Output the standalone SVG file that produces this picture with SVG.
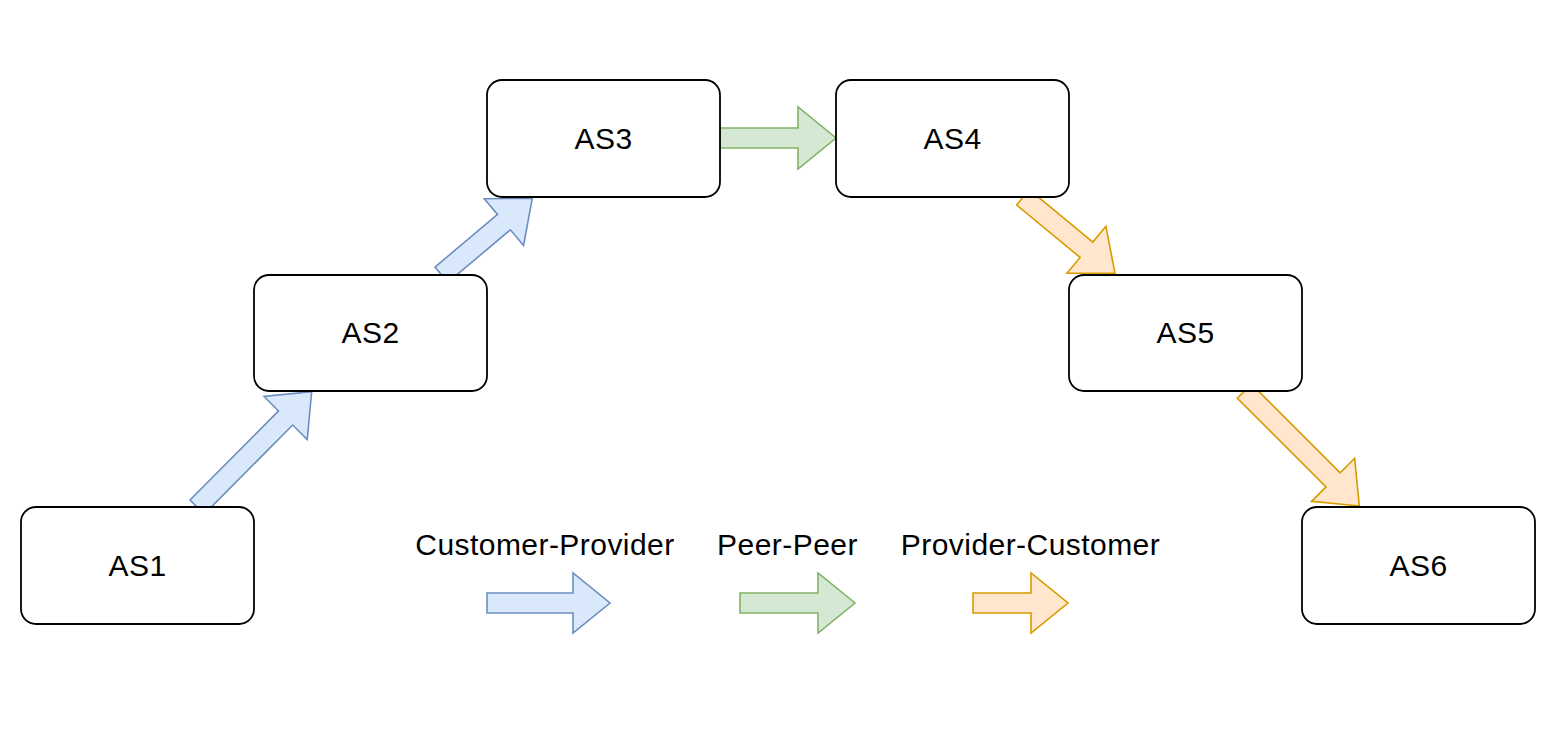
<svg xmlns="http://www.w3.org/2000/svg" width="1563" height="729" viewBox="0 0 1563 729">
  <defs>
    <style>
      .box { fill: #ffffff; stroke: #000000; stroke-width: 1.8; }
      .lbl { font-family: "Liberation Sans", Arial, Helvetica, sans-serif; font-size: 30px; letter-spacing: 0.45px; fill: #000000; text-anchor: middle; }
      .cp { fill: #dae8fc; stroke: #6c8ebf; stroke-width: 1.6; stroke-linejoin: miter; }
      .pp { fill: #d5e8d4; stroke: #82b366; stroke-width: 1.6; stroke-linejoin: miter; }
      .pc { fill: #ffe6cc; stroke: #d79b00; stroke-width: 1.6; stroke-linejoin: miter; }
    </style>
  </defs>
  <rect width="1563" height="729" fill="#ffffff"/>

  <g id="connectors">
    <!-- AS1 -> AS2 -->
    <polygon class="cp" transform="translate(197.1,507.1) rotate(-45.2)" points="0,-10 125.6,-10 125.6,-30.5 162.6,0 125.6,30.5 125.6,10 0,10"/>
    <!-- AS2 -> AS3 -->
    <polygon class="cp" transform="translate(441.4,274.7) rotate(-40.04)" points="0,-10 81.7,-10 81.7,-30.5 118.7,0 81.7,30.5 81.7,10 0,10"/>
    <!-- AS3 -> AS4 -->
    <polygon class="pp" points="720,128 798,128 798,107 836,138 798,169 798,148 720,148"/>
    <!-- AS4 -> AS5 -->
    <polygon class="pc" transform="translate(1023,197.3) rotate(39.56)" points="0,-10 82.3,-10 82.3,-30.5 119.3,0 82.3,30.5 82.3,10 0,10"/>
    <!-- AS5 -> AS6 -->
    <polygon class="pc" transform="translate(1244.4,391.2) rotate(44.97)" points="0,-10 125.4,-10 125.4,-30.5 162.4,0 125.4,30.5 125.4,10 0,10"/>
  </g>

  <g id="AS1">
    <rect class="box" x="21" y="507" width="233" height="117" rx="15" ry="15"/>
    <text class="lbl" x="137.5" y="576">AS1</text>
  </g>
  <g id="AS2">
    <rect class="box" x="254" y="275" width="233" height="116" rx="15" ry="15"/>
    <text class="lbl" x="370.5" y="343">AS2</text>
  </g>
  <g id="AS3">
    <rect class="box" x="487" y="80" width="233" height="117" rx="15" ry="15"/>
    <text class="lbl" x="603.5" y="148.5">AS3</text>
  </g>
  <g id="AS4">
    <rect class="box" x="836" y="80" width="233" height="117" rx="15" ry="15"/>
    <text class="lbl" x="952.5" y="148.5">AS4</text>
  </g>
  <g id="AS5">
    <rect class="box" x="1069" y="275" width="233" height="116" rx="15" ry="15"/>
    <text class="lbl" x="1185.5" y="343">AS5</text>
  </g>
  <g id="AS6">
    <rect class="box" x="1302" y="507" width="233" height="117" rx="15" ry="15"/>
    <text class="lbl" x="1418.5" y="576">AS6</text>
  </g>

  <g id="legend">
    <text class="lbl" x="545" y="555">Customer-Provider</text>
    <text class="lbl" x="787.5" y="555">Peer-Peer</text>
    <text class="lbl" x="1030.5" y="555">Provider-Customer</text>
    <polygon class="cp" points="487,593 573,593 573,573 610,603 573,633 573,613 487,613"/>
    <polygon class="pp" points="740,593 818,593 818,573 855,603 818,633 818,613 740,613"/>
    <polygon class="pc" points="973,593 1031,593 1031,573 1068,603 1031,633 1031,613 973,613"/>
  </g>
</svg>
